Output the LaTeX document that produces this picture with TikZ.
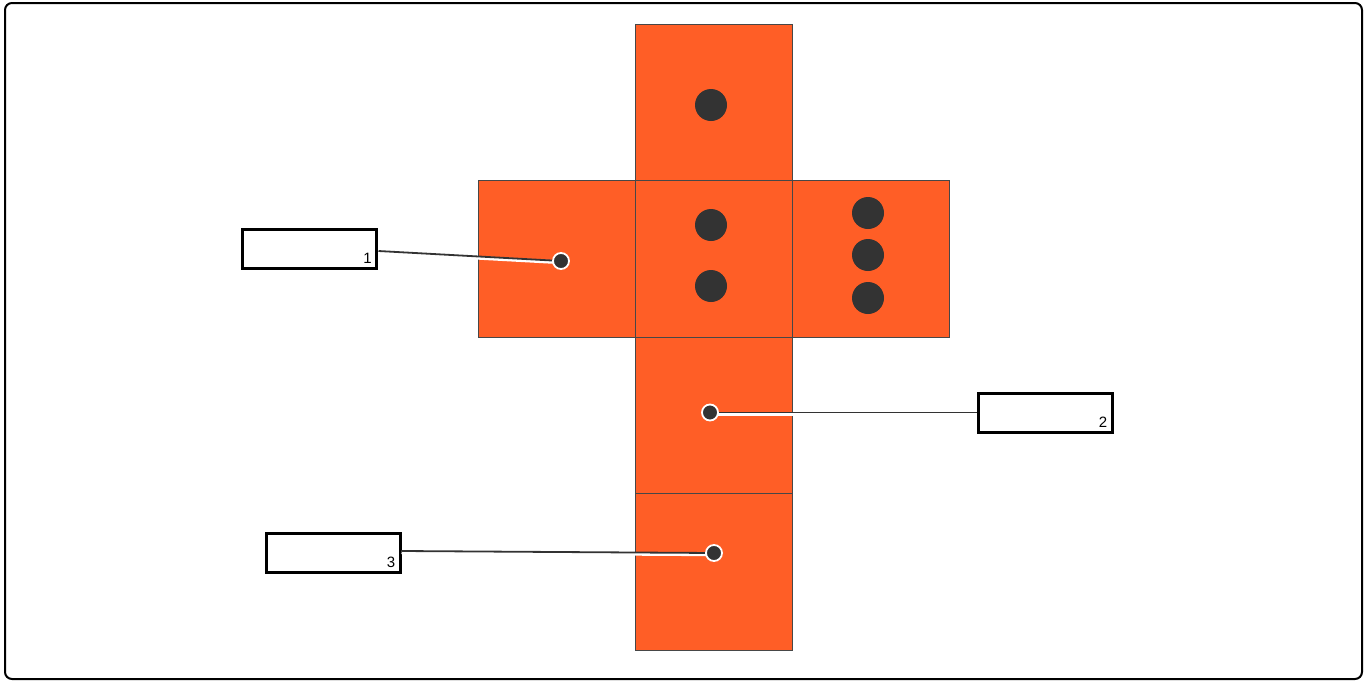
\documentclass[tikz,border=0pt]{standalone}
\usepackage{fontspec}
\setmainfont{Liberation Sans}
\definecolor{dieorange}{HTML}{FF5E26}
\definecolor{pipgray}{HTML}{333333}
\tikzset{
  face/.style={draw=pipgray!90, line width=0.9, fill=dieorange},
  labelbox/.style={draw=black, line width=3, fill=white, minimum width=134, minimum height=39, inner sep=0},
  labeltext/.style={anchor=south east, inner sep=0, font=\fontsize{15}{15}\selectfont},
  pinend/.style={circle, fill=pipgray, draw=white, line width=1.8, minimum size=16, inner sep=0},
  halo/.style={white, line width=3.6},
  lead/.style={pipgray, line width=1.8}
}
\begin{document}
\begin{tikzpicture}[x=1pt,y=-1pt]
\useasboundingbox (0,0) rectangle (1369,681);
\draw[line width=2, rounded corners=7] (5,3) rectangle (1362,679);
% the net of the die
\draw[face] (635.5,24) rectangle (792,180.5);
\draw[face] (478.5,180.5) rectangle (635.5,337);
\draw[face] (635.5,180.5) rectangle (792,337);
\draw[face] (792,180.5) rectangle (949,337);
\draw[face] (635.5,337) rectangle (792,493.5);
\draw[face] (635.5,493.5) rectangle (792,650);
% pips
\fill[pipgray] (711,105) circle[radius=16];
\fill[pipgray] (711,225) circle[radius=16];
\fill[pipgray] (711,286) circle[radius=16];
\fill[pipgray] (868,213) circle[radius=16];
\fill[pipgray] (868,255) circle[radius=16];
\fill[pipgray] (868,298) circle[radius=16];
% labels
\node[labelbox] (l1) at (309.5,249) {};
\node[labeltext] at ([xshift=-6,yshift=6]l1.south east) {1};
\node[labelbox] (l2) at (1045,412.5) {};
\node[labeltext] at ([xshift=-6,yshift=6]l2.south east) {2};
\node[labelbox] (l3) at (333,553) {};
\node[labeltext] at ([xshift=-6,yshift=6]l3.south east) {3};
% pins
\coordinate (c1) at (561,261);
\coordinate (c2) at (710,412.5);
\coordinate (c3) at (714,553);
\coordinate (e1) at (378.5,251);
\coordinate (e3) at (401.5,551);
\draw[halo] ([yshift=-1.4]e1) -- ([yshift=-1.4]c1);
\draw[lead] (e1) -- (c1);
\draw[halo] ([yshift=-1.4]c2) -- ([yshift=-1.4]l2.west);
\draw[lead] (c2) -- (l2.west);
\draw[halo] ([yshift=-1.4]e3) -- ([yshift=-1.4]c3);
\draw[lead] (e3) -- (c3);
\node[pinend] (p1) at (c1) {};
\node[pinend] (p2) at (c2) {};
\node[pinend] (p3) at (c3) {};
\end{tikzpicture}
\end{document}
